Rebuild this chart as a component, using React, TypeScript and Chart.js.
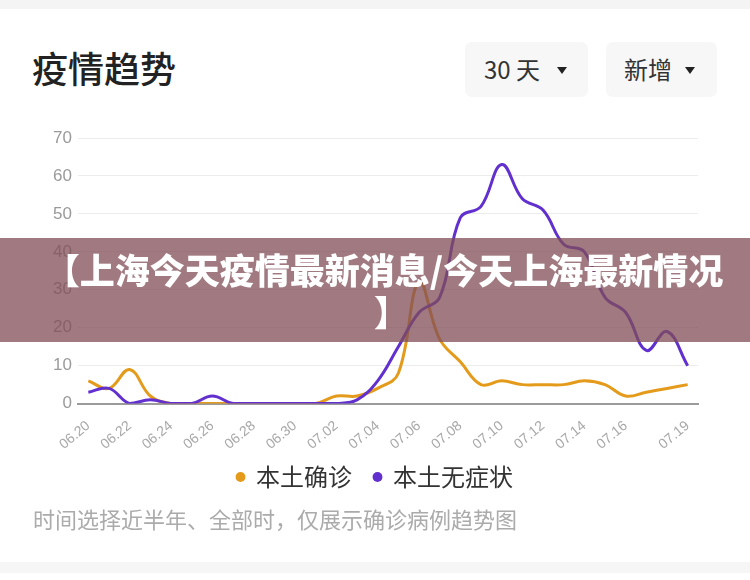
import React, { useEffect, useRef } from 'react';
import { Chart, registerables } from 'chart.js';

Chart.register(...registerables);

const categories = [
  '06.20', '06.21', '06.22', '06.23', '06.24', '06.25', '06.26', '06.27', '06.28', '06.29', '06.30',
  '07.01', '07.02', '07.03', '07.04', '07.05', '07.06', '07.07', '07.08', '07.09', '07.10',
  '07.11', '07.12', '07.13', '07.14', '07.15', '07.16', '07.17', '07.18', '07.19',
];

const shownTickLabels = [
  '06.20', '06.22', '06.24', '06.26', '06.28', '06.30', '07.02', '07.04',
  '07.06', '07.08', '07.10', '07.12', '07.14', '07.16', '07.19',
];

const confirmedValues = [
  6, 4, 9, 2, 0, 0, 0, 0, 0, 0, 0,
  0, 2, 2, 4, 8, 32, 17, 11, 5, 6,
  5, 5, 5, 6, 5, 2, 3, 4, 5,
];

const asymptomaticValues = [
  3, 4, 0, 1, 0, 0, 2, 0, 0, 0, 0,
  0, 0, 1, 6, 15, 24, 28, 49, 52, 63,
  54, 51, 42, 40, 28, 24, 14, 19, 10,
];

const seriesNames = ['本土确诊', '本土无症状'];
const yMin = 0;
const yMax = 70;
const yStep = 10;

const ORANGE = '#E49B1C';
const PURPLE = '#6230CF';

function TrendChart() {
  const ref = useRef<HTMLCanvasElement | null>(null);
  useEffect(() => {
    if (!ref.current) return;
    const chart = new Chart(ref.current, {
      type: 'line',
      data: {
        labels: categories,
        datasets: [
          {
            label: seriesNames[1],
            data: asymptomaticValues,
            borderColor: PURPLE,
            backgroundColor: PURPLE,
            borderWidth: 3,
            pointRadius: 0,
            pointHoverRadius: 0,
            tension: 0.4,
            fill: false,
          },
          {
            label: seriesNames[0],
            data: confirmedValues,
            borderColor: ORANGE,
            backgroundColor: ORANGE,
            borderWidth: 3,
            pointRadius: 0,
            pointHoverRadius: 0,
            tension: 0.4,
            fill: false,
          },
        ],
      },
      options: {
        animation: false,
        responsive: false,
        maintainAspectRatio: false,
        layout: { padding: { left: 52, right: 52, top: 18, bottom: 21 } },
        plugins: {
          tooltip: { enabled: false },
          legend: {
            display: true,
            position: 'bottom',
            reverse: true,
            labels: {
              usePointStyle: true,
              boxWidth: 7,
              boxHeight: 7,
              padding: 22,
              color: '#333333',
              font: { family: '"Noto Sans CJK SC"', size: 24 },
              generateLabels: (c: any) =>
                Chart.defaults.plugins.legend.labels
                  .generateLabels(c)
                  .map((l: any) => ({ ...l, lineWidth: 0, pointStyle: 'circle' })),
            },
          },
        },
        scales: {
          x: {
            offset: true,
            grid: { display: false, drawTicks: false },
            border: { display: true, color: '#9b9b9b', width: 2 },
            afterFit: (s: any) => {
              s.height = 39.4;
              s._computeLabelArea = () => undefined;
            },
            ticks: {
              autoSkip: false,
              minRotation: 40,
              maxRotation: 40,
              padding: 14,
              color: '#a8a8a8',
              font: { family: '"Liberation Sans", Arial, sans-serif', size: 14 },
              callback: (_v: any, i: number) =>
                shownTickLabels.includes(categories[i]) ? categories[i] : '',
            },
          },
          y: {
            min: yMin,
            max: yMax,
            afterFit: (s: any) => { s.width = 26; },
            grid: { color: '#ececec', lineWidth: 1, drawTicks: false },
            border: { display: false },
            ticks: {
              stepSize: yStep,
              padding: 6,
              color: '#9a9a9a',
              font: { family: '"Liberation Sans", Arial, sans-serif', size: 17 },
            },
          },
        },
      },
    });
    return () => chart.destroy();
  }, []);
  return <canvas ref={ref} width={750} height={400} style={{ position: 'absolute', left: 0, top: 120, width: 750, height: 400 }} />;
}

const caret: React.CSSProperties = {
  display: 'inline-block',
  width: 0,
  height: 0,
  borderLeft: '5px solid transparent',
  borderRight: '5px solid transparent',
  borderTop: '7px solid #222',
  position: 'absolute',
  top: 67,
};

export default function App() {
  return (
    <div
      style={{
        position: 'absolute',
        left: 0,
        top: 0,
        width: 750,
        height: 580,
        background: '#ffffff',
        overflow: 'hidden',
        fontFamily: '"Noto Sans CJK SC", sans-serif',
      }}
    >
      <div style={{ position: 'absolute', left: 0, top: 0, width: 750, height: 9, background: '#f4f4f4' }} />
      <div style={{ position: 'absolute', left: 0, top: 562, width: 750, height: 11, background: '#f6f6f6' }} />
      <div
        style={{
          position: 'absolute', left: 32, top: 47, fontSize: 36, lineHeight: '40px',
          fontWeight: 500, color: '#222',
        }}
      >
        疫情趋势
      </div>
      <div style={{ position: 'absolute', left: 465, top: 42, width: 123, height: 55, background: '#f7f7f7', borderRadius: 7 }}>
        <span style={{ position: 'absolute', left: 19, top: 13, fontSize: 24, lineHeight: '28px', color: '#333' }}>30 天</span>
        <span style={{ ...caret, left: 92, top: 25 }} />
      </div>
      <div style={{ position: 'absolute', left: 606, top: 42, width: 111, height: 55, background: '#f7f7f7', borderRadius: 7 }}>
        <span style={{ position: 'absolute', left: 18, top: 13, fontSize: 24, lineHeight: '28px', color: '#333' }}>新增</span>
        <span style={{ ...caret, left: 79, top: 25 }} />
      </div>
      <TrendChart />
      <div
        style={{
          position: 'absolute', left: 33, top: 504, fontSize: 22, lineHeight: '28px', color: '#ababab',
        }}
      >
        时间选择近半年、全部时，仅展示确诊病例趋势图
      </div>
      <div
        style={{
          position: 'absolute', left: 0, top: 238, width: 750, height: 104,
          background: 'rgba(128,78,86,0.75)',
        }}
      >
        <div
          style={{
            position: 'absolute', left: 0, top: 10, width: 768, textAlign: 'center',
            color: '#fff', fontSize: 35, lineHeight: '42px', fontWeight: 900, whiteSpace: 'nowrap',
          }}
        >
          【上海今天疫情最新消息/今天上海最新情况
        </div>
        <div
          style={{
            position: 'absolute', left: 374, top: 52, color: '#fff', fontSize: 35,
            lineHeight: '42px', fontWeight: 900,
          }}
        >
          】
        </div>
      </div>
    </div>
  );
}
